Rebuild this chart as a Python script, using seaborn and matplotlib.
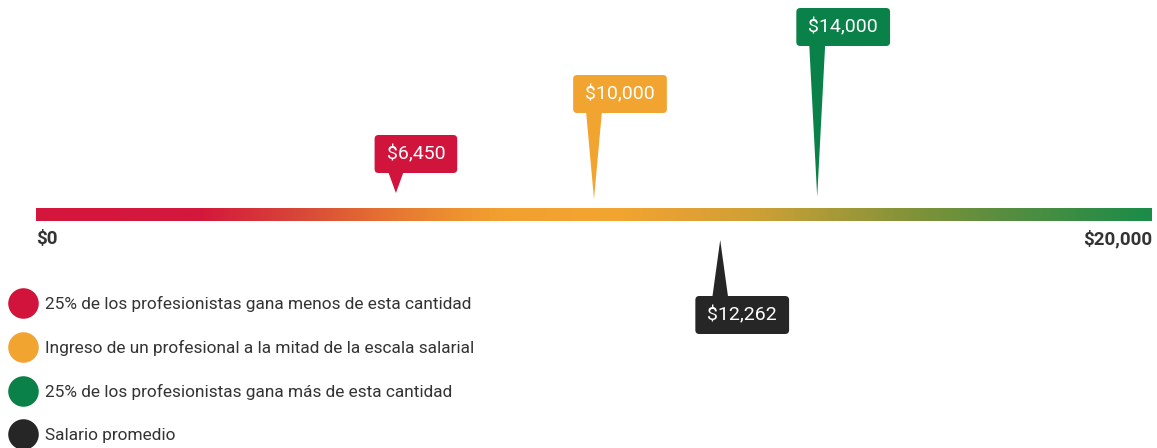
import matplotlib

matplotlib.use("Agg")

import matplotlib.pyplot as plt
import numpy as np
import seaborn as sns
from matplotlib.colors import LinearSegmentedColormap
from matplotlib.lines import Line2D
from matplotlib.patches import FancyBboxPatch, Polygon


# data
SCALE_MIN = 0
SCALE_MAX = 20000
SCALE_LABELS = ["$0", "$20,000"]
MARKER_VALUES = [6450, 10000, 14000, 12262]
MARKER_LABELS = ["$6,450", "$10,000", "$14,000", "$12,262"]
LEGEND_LABELS = [
    "25% de los profesionistas gana menos de esta cantidad",
    "Ingreso de un profesional a la mitad de la escala salarial",
    "25% de los profesionistas gana más de esta cantidad",
    "Salario promedio",
]
COLORS = ["#D0143C", "#F2A430", "#0A8148", "#262626"]

# layout (pixels)
W, H = 1157, 448
BAR_X0, BAR_X1 = 36, 1152
BAR_Y0, BAR_Y1 = 208, 221
BOX_CY = [154, 94, 27, 315]
TIP_Y = [193, 199, 197, 240]
BOX_H = 38
BOX_PAD_X = 12
BOX_DX = [20, 26, 26, 22]
TIP_HALF = 8
FONT = ["Roboto", "DejaVu Sans"]

GRADIENT = [
    (0.0, "#D4163C"), (0.147, "#D4183C"), (0.237, "#D84838"),
    (0.308, "#E47032"), (0.38, "#EE9330"), (0.416, "#F2A030"),
    (0.523, "#F2A530"), (0.577, "#E5A034"), (0.649, "#CDA035"),
    (0.711, "#AA9A38"), (0.792, "#7E9238"), (0.864, "#5A8E40"),
    (1.0, "#1A8C48"),
]


def esc(s):
    return s.replace("$", r"\$")


def main():
    sns.set_theme(style="white")
    plt.rcParams["font.family"] = FONT

    fig = plt.figure(figsize=(W / 100, H / 100), dpi=100)
    ax = fig.add_axes([0, 0, 1, 1])
    ax.set_axis_off()

    per_px = (SCALE_MAX - SCALE_MIN) / (BAR_X1 - BAR_X0)
    ax.set_xlim(SCALE_MIN - BAR_X0 * per_px, SCALE_MAX + (W - BAR_X1) * per_px)
    ax.set_ylim(H, 0)

    # gradient bar
    cmap = LinearSegmentedColormap.from_list("salary", GRADIENT)
    ax.imshow(
        np.linspace(0, 1, 512).reshape(1, -1),
        cmap=cmap,
        aspect="auto",
        extent=[SCALE_MIN, SCALE_MAX, BAR_Y1, BAR_Y0],
        interpolation="bilinear",
        zorder=1,
    )

    ax.text(SCALE_MIN, 239, esc(SCALE_LABELS[0]), ha="left", va="center",
            fontsize=13.5, fontweight="bold", color="#333333")
    ax.text(SCALE_MAX, 239, esc(SCALE_LABELS[1]), ha="right", va="center",
            fontsize=13.5, fontweight="bold", color="#333333")

    fig.canvas.draw()
    renderer = fig.canvas.get_renderer()
    aspect = 1 / per_px

    for value, label, color, cy, tip, dx in zip(MARKER_VALUES, MARKER_LABELS, COLORS,
                                                 BOX_CY, TIP_Y, BOX_DX):
        cx = value + dx * per_px
        txt = ax.text(cx, cy, esc(label), ha="center", va="center", color="white",
                      fontsize=14, zorder=5)
        bb = txt.get_window_extent(renderer)
        w = (bb.width + 2 * BOX_PAD_X) * per_px
        box = FancyBboxPatch(
            (cx - w / 2, cy - BOX_H / 2), w, BOX_H,
            boxstyle=f"round,pad=0,rounding_size={4 * per_px}",
            mutation_aspect=aspect,
            facecolor=color, edgecolor="none", zorder=4,
        )
        ax.add_patch(box)
        base = cy + BOX_H / 2 - 2 if tip > cy else cy - BOX_H / 2 + 2
        ax.add_patch(Polygon(
            [(value - TIP_HALF * per_px, base), (value + TIP_HALF * per_px, base), (value, tip)],
            closed=True, facecolor=color, edgecolor="none", zorder=3,
        ))

    handles = [
        Line2D([], [], marker="o", linestyle="none", markersize=22,
               markerfacecolor=c, markeredgecolor="none")
        for c in COLORS
    ]
    ax.legend(
        handles, LEGEND_LABELS,
        loc="upper left", bbox_to_anchor=(7 / W, 1 - 296 / H),
        frameon=False, fontsize=12.4, labelcolor="#333333",
        handlelength=1.82, handletextpad=0.36, labelspacing=1.63,
        borderpad=0, borderaxespad=0,
    )

    fig.savefig("out.png", dpi=100)
    plt.close(fig)


if __name__ == "__main__":
    main()
